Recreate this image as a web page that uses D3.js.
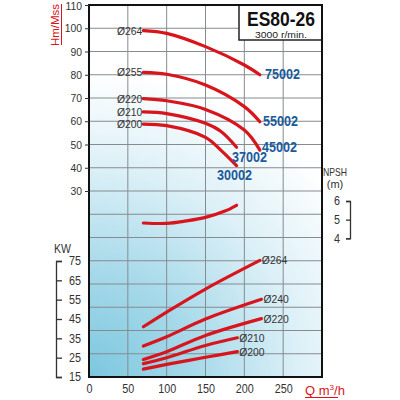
<!DOCTYPE html>
<html><head><meta charset="utf-8">
<script src="https://cdn.jsdelivr.net/npm/d3@7"></script>
<style>
body{margin:0;background:#fff;}
svg{display:block;}
text{font-family:"Liberation Sans",Arial,sans-serif;}
</style></head>
<body>
<svg id="c" width="400" height="400"></svg>
<script>
// ---- data ----
const qTicks = [0, 50, 100, 150, 200, 250];
const hTicks = [30, 40, 50, 60, 70, 80, 90, 100, 110];
const kwTicks = [15, 25, 35, 45, 55, 65, 75];
const npshTicks = [4, 5, 6];

const headNames = ["Ø264", "Ø255", "Ø220", "Ø210", "Ø200"];
const headModels = ["75002", "55002", "45002", "37002", "30002"];
const headQ = [
  [70, 100, 150, 200, 220],
  [70, 100, 150, 200, 220],
  [70, 100, 150, 200, 220],
  [70, 100, 150, 170, 190],
  [70, 100, 150, 170, 190]
];
const headH = [
  [99, 97.8, 92.1, 84.2, 80],
  [81, 80.2, 75.6, 66.3, 59.8],
  [69.7, 68.8, 65.1, 56.2, 47.6],
  [64, 63.3, 59.1, 55.6, 48.8],
  [58.8, 58.1, 53.1, 47.5, 40.9]
];

const npshQ = [70, 100, 125, 150, 175, 190];
const npshV = [4.82, 4.8, 4.93, 5.12, 5.46, 5.77];

const powerNames = ["Ø264", "Ø240", "Ø220", "Ø210", "Ø200"];
const powerQ = [
  [70, 100, 150, 220],
  [70, 100, 150, 222],
  [70, 100, 150, 222],
  [70, 100, 150, 191],
  [70, 100, 150, 191]
];
const powerKW = [
  [41, 48.6, 60.5, 75.3],
  [31, 35.8, 45, 55.2],
  [24.1, 28.1, 36.5, 45.2],
  [21.9, 25, 31.3, 35.3],
  [19.1, 21.5, 25.2, 28.1]
];

// ---- layout ----
const L = 89, R = 322, T = 5, B = 377;
const svg = d3.select("#c");
const x = d3.scaleLinear().domain([0, 300]).range([L, R]);
const yH = d3.scaleLinear().domain([-50, 110]).range([B, T]);
const yKW = d3.scaleLinear().domain([15, 75]).range([B, 261]);
const yN = d3.scaleLinear().domain([4, 6]).range([238.3, 201]);

function condense(sel, f) {
  sel.each(function () {
    const w = this.getComputedTextLength();
    this.setAttribute("textLength", (w * f).toFixed(1));
    this.setAttribute("lengthAdjust", "spacingAndGlyphs");
  });
}

const defs = svg.append("defs");
const rg = defs.append("radialGradient").attr("id", "bg")
  .attr("gradientUnits", "userSpaceOnUse")
  .attr("cx", L).attr("cy", B).attr("r", 350);
rg.append("stop").attr("offset", "0").attr("stop-color", "#7cc7de");
rg.append("stop").attr("offset", "0.3").attr("stop-color", "#a6d9ea");
rg.append("stop").attr("offset", "0.6").attr("stop-color", "#dcf0f7");
rg.append("stop").attr("offset", "0.88").attr("stop-color", "#ffffff");

svg.append("rect").attr("x", L).attr("y", T).attr("width", R - L).attr("height", B - T)
  .attr("fill", "url(#bg)");

// grid
const gridH = d3.range(-40, 110, 10);
svg.append("g").selectAll("line").data(gridH).join("line")
  .attr("x1", L).attr("x2", R).attr("y1", d => yH(d)).attr("y2", d => yH(d))
  .attr("stroke", "#868b8f").attr("stroke-width", 1);
svg.append("g").selectAll("line").data(qTicks.slice(1)).join("line")
  .attr("y1", T).attr("y2", B).attr("x1", d => x(d)).attr("x2", d => x(d))
  .attr("stroke", "#868b8f").attr("stroke-width", 1);

// title box
svg.append("rect").attr("x", 239).attr("y", T).attr("width", R - 239).attr("height", 40 - T)
  .attr("fill", "#fff").attr("stroke", "#222").attr("stroke-width", 1.5);
svg.append("text").attr("x", 281).attr("y", 25.5).attr("text-anchor", "middle")
  .attr("font-size", 19.5).attr("font-weight", "bold").attr("fill", "#111")
  .attr("textLength", 68).attr("lengthAdjust", "spacingAndGlyphs").text("ES80-26");
svg.append("text").attr("x", 281).attr("y", 38).attr("text-anchor", "middle")
  .attr("font-size", 9.5).attr("fill", "#222")
  .attr("textLength", 52).attr("lengthAdjust", "spacingAndGlyphs").text("3000 r/min.");

// plot border
svg.append("rect").attr("x", L).attr("y", T).attr("width", R - L).attr("height", B - T)
  .attr("fill", "none").attr("stroke", "#111").attr("stroke-width", 2);

function styleAxis(g, size) {
  g.selectAll("text").attr("font-size", size).attr("fill", "#333");
  g.selectAll("line,path").attr("stroke", "#333");
  condense(g.selectAll("text"), 0.9);
}

// H axis
const gH = svg.append("g").attr("transform", `translate(${L},0)`)
  .call(d3.axisLeft(yH).tickValues(hTicks).tickSize(4).tickPadding(3));
gH.select(".domain").remove();
styleAxis(gH, 11.5);
gH.selectAll(".tick").filter(d => d === 110).select("text").attr("dy", "0.42em");

// X axis
const gX = svg.append("g").attr("transform", `translate(0,${B})`)
  .call(d3.axisBottom(x).tickValues(qTicks).tickSize(0).tickPadding(7));
gX.select(".domain").remove();
styleAxis(gX, 12);

// KW axis bracket
const gK = svg.append("g").attr("transform", "translate(56,0)")
  .call(d3.axisRight(yKW).tickValues(kwTicks).tickSize(6).tickPadding(7));
styleAxis(gK, 12);
gK.selectAll("line,path").attr("stroke-width", 1.3);
condense(svg.append("text").attr("x", 54).attr("y", 253).attr("font-size", 12).attr("fill", "#333").text("KW"), 0.88);

// NPSH axis bracket
const gN = svg.append("g").attr("transform", "translate(350,0)")
  .call(d3.axisLeft(yN).tickValues(npshTicks).tickFormat(d3.format("d")).tickSize(4).tickPadding(6));
styleAxis(gN, 12);
gN.selectAll("line,path").attr("stroke-width", 1.3);
condense(svg.append("text").attr("x", 335).attr("y", 176).attr("text-anchor", "middle")
  .attr("font-size", 11.5).attr("fill", "#333").text("NPSH"), 0.75);
svg.append("text").attr("x", 335).attr("y", 188).attr("text-anchor", "middle")
  .attr("font-size", 11).attr("fill", "#333").text("(m)");

// axis titles
const red = "#d8141c";
svg.append("text").attr("transform", "translate(59,25) rotate(-90)")
  .attr("text-anchor", "middle").attr("font-size", 11.5).attr("fill", red)
  .text("Hm/Mss");
svg.append("line").attr("x1", 61.5).attr("x2", 61.5).attr("y1", 4).attr("y2", 45)
  .attr("stroke", red).attr("stroke-width", 1);
const qt = svg.append("text").attr("x", 305).attr("y", 395).attr("font-size", 13).attr("fill", red);
qt.append("tspan").text("Q m");
qt.append("tspan").attr("font-size", 8).attr("dy", -5).text("3");
qt.append("tspan").attr("dy", 5).text("/h");
svg.append("line").attr("x1", 305).attr("x2", 338).attr("y1", 397.5).attr("y2", 397.5)
  .attr("stroke", red).attr("stroke-width", 1);

// curves
const lineH = d3.line().curve(d3.curveCatmullRom.alpha(0.5));
headQ.forEach((qs, i) => {
  const pts = qs.map((q, j) => [x(q), yH(headH[i][j])]);
  svg.append("path").attr("d", lineH(pts)).attr("fill", "none")
    .attr("stroke", red).attr("stroke-width", 3.2).attr("stroke-linecap", "round");
  condense(svg.append("text").attr("x", x(qs[0]) - 1).attr("y", yH(headH[i][0]) + 4)
    .attr("text-anchor", "end").attr("font-size", 11.5).attr("fill", "#333").text(headNames[i]), 0.9);
});
const modelPos = [[265, 79], [263, 126], [262, 152], [232, 162], [217, 180]];
headModels.forEach((m, i) => {
  svg.append("text").attr("x", modelPos[i][0]).attr("y", modelPos[i][1])
    .attr("font-size", 14).attr("font-weight", "bold").attr("fill", "#1b5b9b")
    .attr("textLength", 35).attr("lengthAdjust", "spacingAndGlyphs").text(m);
});

svg.append("path").attr("d", lineH(npshQ.map((q, j) => [x(q), yN(npshV[j])])))
  .attr("fill", "none").attr("stroke", red).attr("stroke-width", 3.2).attr("stroke-linecap", "round");

powerQ.forEach((qs, i) => {
  const pts = qs.map((q, j) => [x(q), yKW(powerKW[i][j])]);
  svg.append("path").attr("d", lineH(pts)).attr("fill", "none")
    .attr("stroke", red).attr("stroke-width", 3.2).attr("stroke-linecap", "round");
  const last = qs.length - 1;
  condense(svg.append("text").attr("x", x(qs[last]) + 2).attr("y", yKW(powerKW[i][last]) + 4)
    .attr("font-size", 11.5).attr("fill", "#333").text(powerNames[i]), 0.9);
});
</script>
</body></html>
